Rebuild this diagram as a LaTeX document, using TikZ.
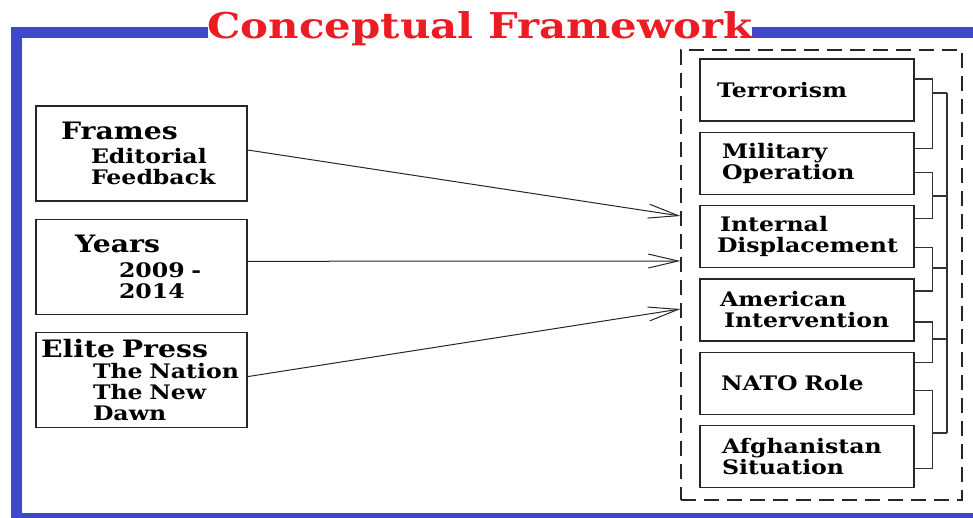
\documentclass[tikz,border=0pt]{standalone}
\usepackage{fontspec}
\setmainfont{DejaVu Serif}[FakeStretch=1.18]
\usetikzlibrary{arrows.meta,positioning,calc}
\definecolor{frameblue}{RGB}{63,72,204}
\definecolor{titlered}{RGB}{237,28,36}
\newcommand{\titlefont}{\fontsize{35.5}{40}\selectfont\bfseries}
\newcommand{\headfont}{\fontsize{24}{26}\selectfont\bfseries}
\newcommand{\itemfont}{\fontsize{20}{21}\selectfont\bfseries}
\tikzset{
    frame line/.style={draw=frameblue, line width=11pt},
    source box/.style={draw=black!85, line width=1.3pt, minimum width=211pt, minimum height=95pt,
        inner xsep=5pt, text width=201pt, align=left, font=\itemfont},
    theme box/.style={draw=black!85, line width=1.3pt, minimum width=214pt, minimum height=62pt,
        inner xsep=17pt, text width=180pt, align=left, font=\itemfont},
    group box/.style={draw=black!85, line width=1.2pt, dash pattern=on 15pt off 8pt},
    arr/.style={-{Straight Barb[length=30pt,width=14pt]}, line width=1pt, black!85},
    bracket/.style={line width=1.2pt, black!80},
}

\begin{document}
\begin{tikzpicture}[x=1pt, y=-1pt]
    \clip (0,0) rectangle (973,517);
    \draw[frame line] (16.5,32) rectangle (990,518);
    \node[fill=white, text=titlered, font=\titlefont, inner xsep=0pt, inner ysep=3pt, anchor=base] (title) at (480,38) {Conceptual Framework};

    % sources
    \node[source box] (frames) at (141.5,153.5) {\hspace*{20pt}{\headfont Frames}\\[3pt]
        \hspace*{50pt}Editorial\\ \hspace*{50pt}Feedback};
    \node[source box, below=17pt of frames] (years) {\hspace*{34pt}{\headfont Years}\\[4pt]
        \hspace*{78pt}2009 -\\ \hspace*{78pt}2014};
    \node[source box, below=17pt of years] (press) {{\headfont Elite Press}\\
        \hspace*{52pt}The Nation\\ \hspace*{52pt}The New\\ \hspace*{52pt}Dawn};

    % themes
    \node[theme box] (terror) at (807,90) {Terrorism};
    \node[theme box, below=10pt of terror] (military) {\hspace*{5pt}Military\\ \hspace*{5pt}Operation};
    \node[theme box, below=10pt of military] (displace) {\hspace*{3pt}Internal\\ Displacement};
    \node[theme box, below=10pt of displace] (american) {\hspace*{3pt}American\\ \hspace*{7pt}Intervention};
    \node[theme box, below=10pt of american] (nato) {\hspace*{4pt}NATO Role};
    \node[theme box, below=10pt of nato] (afghan) {\hspace*{5pt}Afghanistan\\ \hspace*{5pt}Situation};
    \node[group box, minimum width=281pt, minimum height=450pt] (themes) at (821.5,275) {};

    \coordinate (in frames) at ($(themes.west)+(0,-59)$);
    \coordinate (in years) at ($(themes.west)+(0,-14)$);
    \coordinate (in press) at ($(themes.west)+(0,34)$);
    \draw[arr] ([yshift=3.5pt]frames.east) -- (in frames);
    \draw[arr] ([yshift=5.5pt]years.east) -- (in years);
    \draw[arr] ([yshift=3.5pt]press.east) -- (in press);

    % brackets
    \foreach \a/\b/\sa/\sb in {terror/military/-11/-15, military/displace/9/-18,
        displace/american/11/-19, american/nato/12/-21, nato/afghan/7/12}
        \draw[bracket] ($(\a.east)+(0,\sa)$) -- ++(18,0) |- ($(\b.east)+(0,\sb)$);
    \coordinate (spine top) at (947,93);
    \coordinate (spine bottom) at (947,433);
    \draw[bracket] (spine top) -- (spine bottom);
    \foreach \y in {93,196,268,339,433}
        \draw[bracket] (932.5,\y) -- (spine top |- 0,\y);
\end{tikzpicture}
\end{document}
